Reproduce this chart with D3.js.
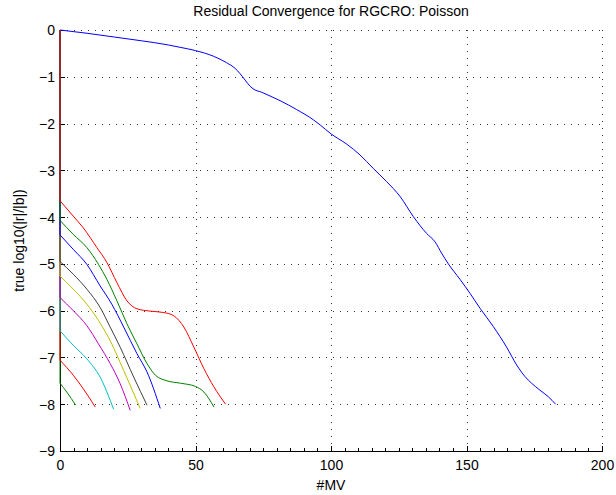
<!DOCTYPE html>
<html>
<head>
<meta charset="utf-8">
<script src="https://cdn.jsdelivr.net/npm/d3@7"></script>
<style>
  html, body { margin: 0; padding: 0; background: #fff; }
  svg { display: block; font-family: "Liberation Sans", Arial, Helvetica, sans-serif; }
</style>
</head>
<body>
<svg id="chart" width="616" height="495"></svg>
<script>
// ---------------- data ----------------
const titleText = "Residual Convergence for RGCRO: Poisson";
const xLabelText = "#MV";
const yLabelText = "true log10(|r|/|b|)";
const xTicks = [0, 50, 100, 150, 200];
const xMinorTicks = d3.range(0, 201, 5);
const yTicks = [0, -1, -2, -3, -4, -5, -6, -7, -8, -9];
const yTickLabels = ["0", "\u22121", "\u22122", "\u22123", "\u22124", "\u22125", "\u22126", "\u22127", "\u22128", "\u22129"];

// MATLAB default colour order (b g r c m y k, then repeats)
const seriesColors = ["#0000ff", "#008000", "#ff0000", "#00bfbf", "#bf00bf", "#bfbf00", "#404040", "#0000ff", "#008000", "#ff0000"];

// main (full) run
const mainRun = [[0,0],[10,-0.07],[20,-0.15],[30,-0.23],[40,-0.32],[44.3,-0.37],[50,-0.44],[56.6,-0.56],[61.5,-0.70],[64.6,-0.82],[66.4,-0.93],[68.3,-1.07],[70.1,-1.20],[71.6,-1.27],[74.4,-1.33],[77.5,-1.41],[81.2,-1.51],[87.3,-1.70],[93.5,-1.92],[96,-2.03],[100,-2.22],[105.8,-2.44],[110.7,-2.67],[115.6,-2.96],[120.5,-3.24],[125.5,-3.56],[130.4,-3.99],[135.3,-4.35],[138.4,-4.53],[140.8,-4.77],[143.3,-5.00],[147.6,-5.33],[151.3,-5.63],[155,-5.95],[159.9,-6.34],[164.8,-6.78],[168.5,-7.16],[171.6,-7.41],[174,-7.55],[177.1,-7.70],[180.2,-7.84],[182.9,-8.0]];

// restarted runs (in plotting order)
const run2 = [[0,0],[0,-7.55],[2.5,-7.74],[5.8,-8.02]];
const run3 = [[0,0],[0,-7.06],[4.9,-7.38],[8.6,-7.67],[13,-8.06]];
const run4 = [[0,0],[0,-6.43],[4.9,-6.74],[9.9,-7.03],[14.8,-7.42],[19.8,-8.11]];
const run5 = [[0,0],[0,-5.72],[4.9,-6.0],[9.9,-6.32],[14.2,-6.71],[18.5,-7.13],[22.2,-7.56],[25.9,-8.13]];
const run6 = [[0,0],[0,-5.26],[4.9,-5.54],[9.9,-5.86],[14.2,-6.21],[18.5,-6.64],[23.5,-7.28],[29.6,-8.09]];
const run7 = [[0,0],[0,-4.95],[4.9,-5.22],[9.9,-5.54],[14.8,-5.93],[18.5,-6.35],[22.2,-6.78],[27.2,-7.42],[32.1,-8.02]];
const run8 = [[0,0],[0,-4.38],[4.9,-4.69],[9.9,-5.01],[14.8,-5.47],[19.1,-5.86],[23.5,-6.35],[28.4,-6.92],[32.1,-7.31],[37,-8.09]];
const run9 = [[0,0],[0,-4.07],[4.9,-4.37],[9.9,-4.65],[14.2,-5.01],[17.3,-5.33],[21,-5.79],[24.7,-6.28],[28.4,-6.71],[32.1,-7.13],[35.2,-7.38],[39.5,-7.50],[44.4,-7.55],[50,-7.62],[53.1,-7.74],[56.8,-8.06]];
const run10 = [[0,0],[0,-3.65],[4.9,-3.98],[8.6,-4.23],[13.6,-4.65],[17.3,-4.97],[21,-5.40],[24.7,-5.79],[28.4,-5.96],[33.3,-6.01],[38.3,-6.04],[42,-6.11],[45.7,-6.35],[49.4,-6.78],[53.1,-7.24],[56.8,-7.63],[61.1,-8.0]];

const allRuns = [mainRun, run2, run3, run4, run5, run6, run7, run8, run9, run10];

// ---------------- drawing ----------------
const svg = d3.select("#chart");
const pLeft = 60, pRight = 602, pTop = 30, pBottom = 451;
const x = d3.scaleLinear().domain([0, 200]).range([pLeft, pRight]);
const y = d3.scaleLinear().domain([-9, 0]).range([pBottom, pTop]);

// grid (dotted)
const grid = svg.append("g").attr("stroke", "#333").attr("stroke-width", 1)
  .attr("stroke-dasharray", "1,6").attr("shape-rendering", "crispEdges");
grid.selectAll("line.gy").data(yTicks.filter(v => v > -9)).join("line")
  .attr("x1", pLeft).attr("x2", pRight)
  .attr("y1", d => Math.round(y(d)) + 0.5).attr("y2", d => Math.round(y(d)) + 0.5);
grid.selectAll("line.gx").data(xTicks.filter(v => v > 0)).join("line")
  .attr("y1", pBottom).attr("y2", pTop)
  .attr("x1", d => Math.round(x(d)) + 0.5).attr("x2", d => Math.round(x(d)) + 0.5);

// axes
const axisX = d3.axisBottom(x).tickValues(xTicks).tickSize(0).tickFormat(d => String(d));
const axisY = d3.axisLeft(y).tickValues(yTicks).tickSize(0).tickFormat((d, i) => yTickLabels[i]);

const gx = svg.append("g").attr("transform", `translate(0,${pBottom})`).call(axisX);
gx.select(".domain").remove();
gx.selectAll("text").attr("font-size", 14).attr("fill", "#000")
  .attr("font-family", "Liberation Sans, Arial, sans-serif").attr("dy", null).attr("y", 19);

const gy = svg.append("g").attr("transform", `translate(${pLeft},0)`).call(axisY);
gy.select(".domain").remove();
gy.selectAll("text").attr("font-size", 14).attr("fill", "#000")
  .attr("font-family", "Liberation Sans, Arial, sans-serif").attr("x", -5).attr("dy", "0.35em");

// axis lines & inward ticks
const axes = svg.append("g").attr("stroke", "#000").attr("stroke-width", 1).attr("shape-rendering", "crispEdges");
axes.append("line").attr("x1", pLeft + 0.5).attr("x2", pLeft + 0.5).attr("y1", pTop).attr("y2", pBottom + 0.5);
axes.append("line").attr("x1", pLeft).attr("x2", pRight + 0.5).attr("y1", pBottom + 0.5).attr("y2", pBottom + 0.5);
axes.selectAll("line.ty").data(yTicks).join("line")
  .attr("x1", pLeft).attr("x2", pLeft + 5)
  .attr("y1", d => Math.round(y(d)) + 0.5).attr("y2", d => Math.round(y(d)) + 0.5);
axes.selectAll("line.tx").data(xTicks).join("line")
  .attr("y1", pBottom).attr("y2", pBottom - 5)
  .attr("x1", d => Math.round(x(d)) + 0.5).attr("x2", d => Math.round(x(d)) + 0.5);
axes.selectAll("line.mx").data(xMinorTicks.filter(v => !xTicks.includes(v))).join("line")
  .attr("y1", pBottom).attr("y2", pBottom - 3)
  .attr("x1", d => Math.round(x(d)) + 0.5).attr("x2", d => Math.round(x(d)) + 0.5);

// series
const straight = d3.line().x(d => x(d[0])).y(d => y(d[1]));
const smooth = d3.line().x(d => x(d[0])).y(d => y(d[1])).curve(d3.curveMonotoneX);
const lines = svg.append("g").attr("fill", "none").attr("stroke-width", 1);
allRuns.forEach((run, i) => {
  const g = lines.append("g").attr("stroke", seriesColors[i]);
  if (run.length > 2 && run[1][0] === run[0][0]) {
    g.append("path").attr("d", straight(run.slice(0, 2)));
    g.append("path").attr("d", smooth(run.slice(1)));
  } else {
    g.append("path").attr("d", smooth(run));
  }
});

// title & labels
svg.append("text").attr("x", (pLeft + pRight) / 2).attr("y", 16).attr("text-anchor", "middle")
  .attr("font-size", 14).text(titleText);
svg.append("text").attr("x", (pLeft + pRight) / 2).attr("y", 490).attr("text-anchor", "middle")
  .attr("font-size", 14).text(xLabelText);
svg.append("text").attr("transform", `translate(24,${(pTop + pBottom) / 2}) rotate(-90)`)
  .attr("text-anchor", "middle").attr("font-size", 14).text(yLabelText);
</script>
</body>
</html>
